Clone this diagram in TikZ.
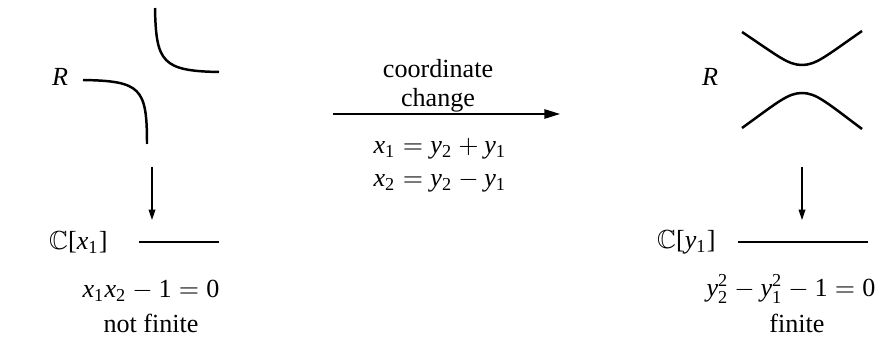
\documentclass[tikz,border=0pt]{standalone}
\usepackage{amssymb}
\usepackage[no-math]{fontspec}
\setmainfont{Liberation Serif}
\newfontfamily\tmfam{Liberation Serif}[NFSSFamily=tmfam]
\DeclareSymbolFont{tmit}{TU}{tmfam}{m}{it}
\DeclareSymbolFont{tmrm}{TU}{tmfam}{m}{n}
\DeclareMathSymbol{x}{\mathalpha}{tmit}{`x}
\DeclareMathSymbol{y}{\mathalpha}{tmit}{`y}
\DeclareMathSymbol{R}{\mathalpha}{tmit}{`R}
\DeclareMathSymbol{0}{\mathalpha}{tmrm}{`0}
\DeclareMathSymbol{1}{\mathalpha}{tmrm}{`1}
\DeclareMathSymbol{2}{\mathalpha}{tmrm}{`2}
\DeclareMathSymbol{[}{\mathopen}{tmrm}{`[}
\DeclareMathSymbol{]}{\mathclose}{tmrm}{`]}
\usetikzlibrary{arrows.meta}
\begin{document}
\begin{tikzpicture}[x=0.383pt,y=-0.383pt,
  curve/.style={line width=0.95pt},
  base/.style={line width=0.95pt},
  maparrow/.style={line width=0.45pt,-{Triangle[length=4pt,width=2.6pt]}},
  changearrow/.style={line width=0.6pt,-{Triangle[length=6pt,width=3.6pt]}},
  lbl/.style={inner sep=0pt,font=\normalsize}]
\useasboundingbox (0,0) rectangle (885,340);
% left picture
\draw[curve] (155,8) .. controls (156,62) and (162,71) .. (219,72);
\draw[curve] (83,80) .. controls (141,81) and (147,88) .. (147,144);
\node[lbl] (RL) at (60,77) {$R$};
\coordinate (dl1) at (152,167);
\coordinate (dl2) at (152,220);
\draw[maparrow] (dl1) -- (dl2);
\coordinate (bl1) at (139,242);
\coordinate (bl2) at (219,242);
\draw[base] (bl1) -- (bl2);
\node[lbl,anchor=east] (CL) at (108,242) {$\mathbb{C}[x_1]$};
\node[lbl] (eqL) at (151,291) {$x_1x_2-1=0$};
\node[lbl] (nfL) at (151,323) {not finite};
% middle
\coordinate (a1) at (333,114);
\coordinate (a2) at (560,114);
\draw[changearrow] (a1) -- (a2);
\node[lbl,align=center] (cc) at (438,86) {coordinate\\[-1pt]change};
\node[lbl] (eq1) at (440,149) {$x_1=y_2+y_1$};
\node[lbl] (eq2) at (440,182) {$x_2=y_2-y_1$};
% right picture
\draw[curve] (742,32) .. controls (778,56) and (788,65) .. (802,65) .. controls (816,65) and (826,56) .. (862,31);
\draw[curve] (742,128) .. controls (778,102) and (788,93) .. (802,93) .. controls (816,93) and (826,102) .. (862,129);
\node[lbl] (RR) at (710,77) {$R$};
\coordinate (dr1) at (802,167);
\coordinate (dr2) at (802,220);
\draw[maparrow] (dr1) -- (dr2);
\coordinate (br1) at (738,242);
\coordinate (br2) at (868,242);
\draw[base] (br1) -- (br2);
\node[lbl,anchor=east] (CR) at (716,242) {$\mathbb{C}[y_1]$};
\node[lbl] (eqR) at (791,289) {$y_2^2-y_1^2-1=0$};
\node[lbl] (fR) at (797,323) {finite};
\end{tikzpicture}
\end{document}
